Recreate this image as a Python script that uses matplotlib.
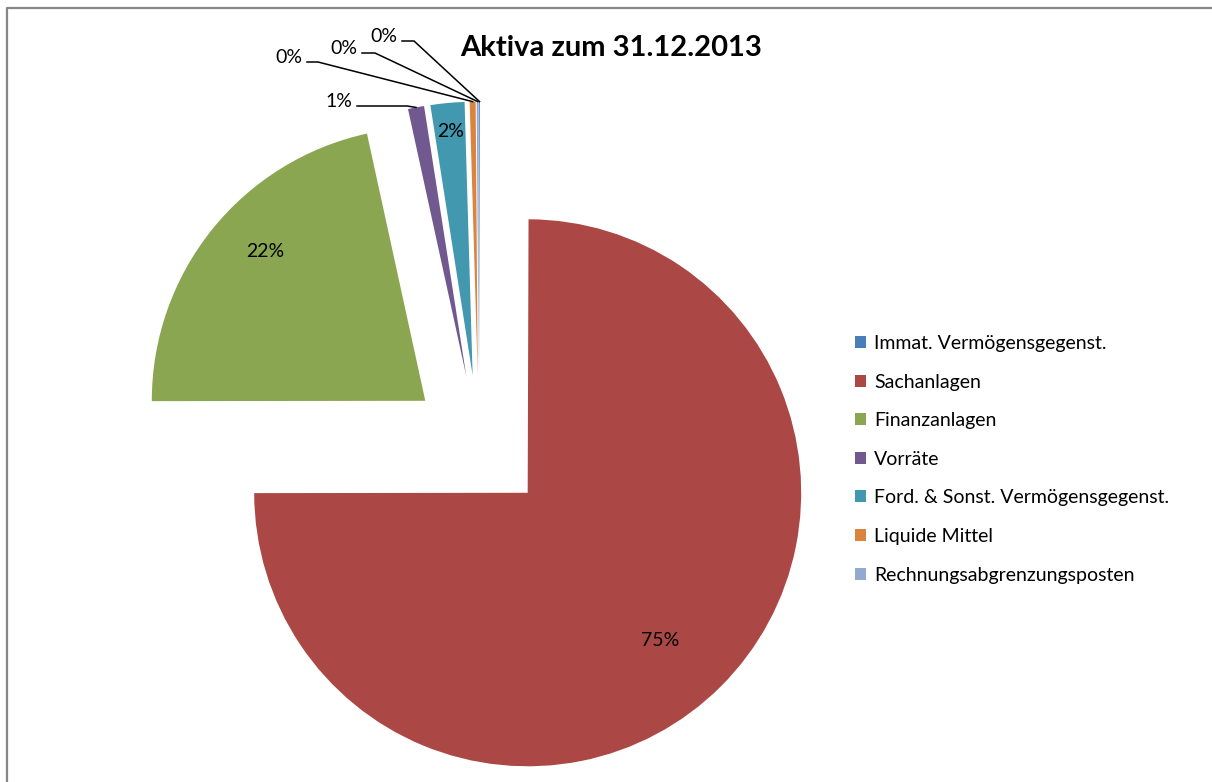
import numpy as np
import matplotlib.pyplot as plt
from matplotlib.lines import Line2D

# balance sheet assets, share of total in percent
categories = [
    "Immat. Vermögensgegenst.",
    "Sachanlagen",
    "Finanzanlagen",
    "Vorräte",
    "Ford. & Sonst. Vermögensgegenst.",
    "Liquide Mittel",
    "Rechnungsabgrenzungsposten",
]
shares = [0.05, 74.93, 21.6, 0.95, 2.0, 0.35, 0.12]
colors = ["#4a7ebb", "#ab4744", "#8aa650", "#71588f", "#4298ae", "#db843d", "#93a9cf"]
title = "Aktiva zum 31.12.2013"

W, H = 1212, 782
R = 273.5            # pie radius in pixels
CX, CY = 479, 444    # pie centre, pixels from top left


def px(x, y):
    """pixel position (top left origin) -> data coords of the pie axes"""
    return (x - CX) / R, (CY - y) / R


def rim(w, frac=1.0):
    t = np.deg2rad((w.theta1 + w.theta2) / 2)
    return (w.center[0] + frac * w.r * np.cos(t),
            w.center[1] + frac * w.r * np.sin(t))


def main():
    plt.rcParams["font.family"] = ["Lato", "DejaVu Sans"]

    fig = plt.figure(figsize=(W / 100, H / 100), dpi=100)
    ax = fig.add_axes([0, 0, 1, 1])
    wedges, _ = ax.pie(shares, colors=colors, startangle=90, counterclock=False,
                       explode=[0.252] * len(shares), radius=1,
                       wedgeprops=dict(linewidth=0))
    ax.set_xlim(-CX / R, (W - CX) / R)
    ax.set_ylim(-(H - CY) / R, CY / R)
    ax.axis("off")

    total = sum(shares)
    pct = [f"{v / total * 100:.0f}%" for v in shares]

    # labels inside the larger slices
    inner = {1: (660, 641), 2: (265, 251), 4: (451, 131)}
    for i, (x, y) in inner.items():
        ax.text(*px(x, y), pct[i], ha="center", va="center", fontsize=14)

    # labels with leader lines for the thin slices: text right end, baseline
    outer = {0: (397, 42), 6: (357, 54), 5: (302, 63), 3: (352, 107)}
    knee = {0: 414, 6: 375, 5: 318, 3: 407}
    for i, (x, y) in outer.items():
        ax.text(*px(x, y), pct[i], ha="right", va="baseline", fontsize=14)
        x0, y0 = px(x + 5, y - 1)
        x1, y1 = px(knee[i], y - 1)
        x2, y2 = rim(wedges[i])
        ax.plot([x0, x1, x2], [y0, y1, y2], color="black", lw=1.1,
                solid_joinstyle="miter")

    ax.text(*px(611, 48), title, ha="center", va="center",
            fontsize=21, fontweight="bold")

    ax.legend(wedges, categories, loc="upper left",
              bbox_to_anchor=(855 / W, 1 - 335 / H), bbox_transform=fig.transFigure,
              frameon=False, fontsize=14, handlelength=0.57, handleheight=0.57,
              handletextpad=0.42, labelspacing=1.11, borderaxespad=0, borderpad=0)

    # chart area border (only top and left edge fall inside the image)
    fig.add_artist(Line2D([6.5 / W, 6.5 / W, 1.01], [-0.01, 1 - 7.5 / H, 1 - 7.5 / H],
                          transform=fig.transFigure, color="#868686", lw=1.6))

    fig.savefig("out.png", dpi=100)


if __name__ == "__main__":
    main()
